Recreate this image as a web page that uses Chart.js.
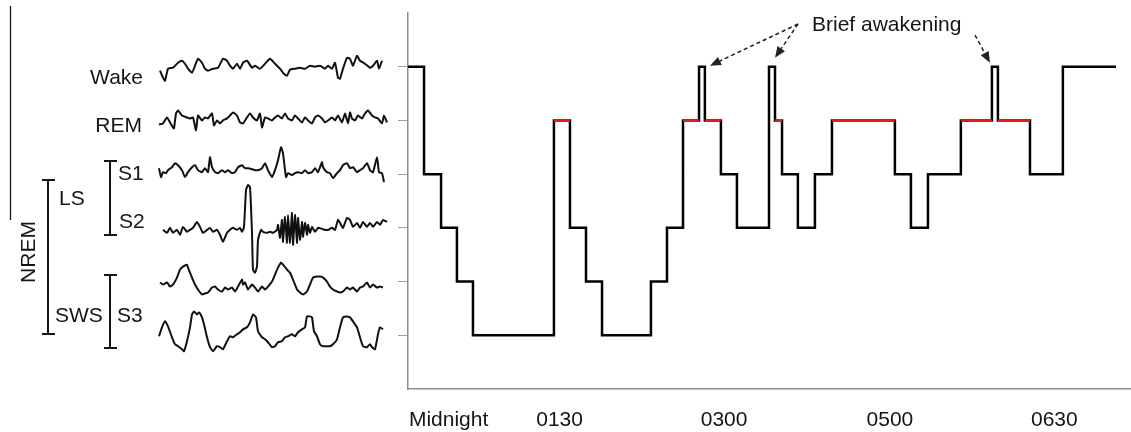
<!DOCTYPE html>
<html>
<head>
<meta charset="utf-8">
<script src="https://cdn.jsdelivr.net/npm/chart.js@4.4.1/dist/chart.umd.min.js"></script>
<style>
  html, body { margin: 0; padding: 0; background: #fff; }
  #wrap { position: relative; width: 1131px; height: 432px; }
  #wrap canvas { position: absolute; left: 0; top: 0; }
</style>
</head>
<body>
<div id="wrap">
  <canvas id="eegChart" width="1131" height="432"></canvas>
  <canvas id="hypnoChart" width="1131" height="432"></canvas>
</div>
<script>
const FONT_FAMILY = '"Liberation Sans", Arial, sans-serif';
const INK = '#151515';

// stage levels: 5 Wake, 4 REM, 3 S1, 2 S2, 1 S3, 0 S4
// hypnogram: minutes after midnight where each stage begins
const stageStart = [0, 9.6, 19.8, 29.3, 38.9, 87.4, 97, 106.6, 116.2, 145.5,
    155.1, 164.7, 174.3, 177.8, 187.4, 197, 216.2, 219.8, 224, 233.5,
    243.7, 253.9, 291.6, 301.2, 311.4, 331.1, 349.7, 353.3, 372.5, 392.2];
const stageLevel = [5, 3, 2, 1, 0, 4, 2, 1, 0, 1,
    2, 4, 5, 4, 3, 2, 5, 4, 3, 2,
    3, 4, 3, 2, 3, 4, 5, 4, 3, 5];
const recordEnd = 424;
const axisEnd = 433;

const timeTicks = [24.3, 90.8, 189.3, 288.6, 387.1];
const timeLabels = ['Midnight', '0130', '0300', '0500', '0630'];

// example EEG traces: [sample, amplitude]
const traceLevel = [5, 4, 3, 2, 1, 0];
const wakeTrace = [[5,-4],[8,-11],[10,-14],[13,-2],[18,-1],[23,4],[27,6],[30,3],[33,-2],[37,-6],[40,1],[43,8],[47,4],[50,-2],[53,-4],[58,-2],[63,-1],[68,8],[72,6],[75,1],[78,-2],[82,3],[85,-2],[88,4],[92,6],[97,-1],[100,1],[105,-2],[110,3],[115,8],[120,3],[125,-2],[128,-6],[132,-9],[135,-3],[140,-2],[145,-1],[150,-2],[155,1],[160,0],[165,1],[170,-2],[173,1],[177,-2],[180,4],[183,-11],[185,-12],[188,-2],[192,9],[195,8],[198,1],[202,11],[205,6],[210,3],[215,-1],[218,1],[222,6],[224,-2],[227,6]];
const remTrace = [[4,-4],[8,-3],[12,3],[15,-2],[18,-7],[19,-8],[21,7],[23,10],[27,5],[32,3],[35,2],[38,3],[41,-10],[43,5],[47,0],[50,3],[53,2],[57,7],[59,-5],[62,0],[65,-3],[68,0],[72,2],[75,5],[78,8],[82,5],[85,-2],[88,-3],[92,3],[95,7],[98,3],[102,0],[105,7],[107,-7],[110,3],[113,2],[117,0],[120,3],[123,5],[127,2],[130,7],[133,2],[137,0],[140,5],[143,2],[147,-2],[150,3],[153,0],[157,-3],[160,3],[163,5],[167,2],[170,-2],[173,0],[177,3],[180,0],[183,5],[187,-2],[190,7],[193,-3],[195,8],[197,2],[200,0],[203,5],[207,2],[210,7],[213,10],[217,5],[220,3],[223,2],[227,-3],[229,5],[232,-2]];
const s1Trace = [[4,6],[6,-3],[8,2],[11,1],[13,4],[17,7],[20,11],[23,9],[27,4],[30,-3],[33,2],[37,7],[40,9],[43,4],[47,2],[50,6],[53,2],[55,17],[57,7],[60,2],[63,1],[67,4],[70,2],[73,4],[77,1],[80,2],[83,7],[87,9],[90,6],[93,6],[97,5],[100,4],[103,4],[107,6],[110,11],[113,4],[117,-3],[120,4],[123,14],[126,27],[128,21],[131,-3],[133,1],[137,-1],[140,1],[143,2],[147,1],[150,4],[153,1],[157,2],[160,6],[163,2],[167,12],[168,7],[172,2],[175,1],[178,-4],[182,1],[185,4],[188,9],[192,11],[195,6],[198,7],[202,2],[205,4],[208,6],[212,11],[215,4],[218,2],[222,17],[224,2],[227,1],[229,-8]];
const s2Trace = [[8,-2],[12,-5],[15,0],[18,-5],[22,-2],[25,-7],[28,1],[32,-4],[35,-2],[38,0],[42,6],[45,1],[48,-5],[52,-2],[55,0],[58,-4],[62,-2],[65,-7],[68,-14],[72,-5],[75,-2],[78,0],[82,-2],[85,0],[87,-4],[89,1],[91,38],[93,43],[95,41],[97,-5],[98,-42],[100,-45],[102,-39],[103,-12],[106,-2],[108,-4],[112,-5],[115,-4],[118,-5],[122,-2],[123,3],[125,-10],[127,8],[128,-14],[130,11],[132,-15],[133,13],[135,-15],[137,15],[138,-17],[140,13],[142,-15],[143,10],[145,-12],[147,6],[148,-9],[150,5],[152,-7],[153,3],[155,-5],[157,1],[160,-4],[163,0],[167,-1],[170,-2],[173,-2],[177,0],[180,-2],[183,8],[185,5],[188,0],[192,10],[195,8],[198,1],[202,5],[205,0],[208,6],[212,1],[215,5],[218,1],[222,6],[225,3],[228,8],[232,6]];
const s3Trace = [[5,-1],[8,-3],[12,-1],[15,-5],[18,-3],[22,4],[25,12],[28,15],[32,17],[33,14],[37,4],[40,-3],[43,-8],[47,-13],[50,-12],[53,-11],[57,-6],[60,-5],[63,-8],[67,-10],[70,-6],[73,-8],[77,-6],[80,-10],[83,-5],[87,2],[88,-3],[90,-1],[93,-8],[97,-3],[100,-6],[103,-10],[107,-5],[110,-8],[113,-5],[117,0],[120,7],[123,14],[126,19],[128,17],[132,12],[135,9],[138,2],[142,-8],[145,-11],[148,-13],[152,-10],[155,-3],[158,4],[162,5],[165,5],[168,4],[172,0],[175,-5],[178,-8],[182,-10],[185,-11],[188,-10],[192,-6],[195,-8],[198,-6],[202,-10],[205,-6],[208,-5],[212,-1],[215,-6],[218,-3],[222,-6],[225,-5],[228,-6]];
const s4Trace = [[4,-1],[7,8],[10,14],[13,9],[17,-2],[20,-9],[23,-11],[27,-14],[29,-16],[32,-6],[35,8],[37,21],[39,24],[42,21],[44,23],[47,18],[49,11],[52,-2],[55,-12],[58,-16],[62,-11],[65,-12],[68,-14],[72,-6],[75,-1],[78,-2],[82,1],[85,3],[88,6],[92,8],[95,13],[98,21],[101,18],[103,4],[107,-2],[110,-4],[113,-7],[117,-12],[120,-11],[123,-7],[127,-6],[130,-2],[133,-1],[137,1],[140,-1],[143,3],[147,6],[150,8],[152,19],[155,19],[157,18],[159,4],[162,-1],[165,-9],[168,-11],[172,-11],[175,-11],[178,-9],[182,-4],[185,8],[188,18],[192,19],[195,18],[198,14],[202,8],[205,-2],[208,-11],[212,-12],[215,-9],[217,-12],[220,-14],[223,1],[225,8],[228,6]];
const traceEnd = 233;
const ampPerLevel = 54;

const traces = [wakeTrace, remTrace, s1Trace, s2Trace, s3Trace, s4Trace];

const font = (size) => `${size}px ${FONT_FAMILY}`;

// hypnogram points (value holds until the next start)
const hypnoPoints = stageStart.map((t, i) => ({ x: t, y: stageLevel[i] }));
hypnoPoints.push({ x: recordEnd, y: stageLevel[stageLevel.length - 1] });

const stageEnd = (i) => (i + 1 < stageStart.length ? stageStart[i + 1] : recordEnd);

// REM periods drawn again in red
const remPoints = [];
stageStart.forEach((t, i) => {
    if (stageLevel[i] !== 4) return;
    remPoints.push({ x: t, y: 4 }, { x: stageEnd(i), y: 4 }, { x: stageEnd(i), y: null });
});

const line = (ctx, x1, y1, x2, y2) => {
    ctx.beginPath();
    ctx.moveTo(x1, y1);
    ctx.lineTo(x2, y2);
    ctx.stroke();
};

const arrow = (ctx, from, to) => {
    const ang = Math.atan2(to[1] - from[1], to[0] - from[0]);
    const len = 11;
    const bx = to[0] - Math.cos(ang) * len;
    const by = to[1] - Math.sin(ang) * len;
    ctx.save();
    ctx.setLineDash([4, 3]);
    line(ctx, from[0], from[1], bx, by);
    ctx.setLineDash([]);
    ctx.beginPath();
    ctx.moveTo(to[0], to[1]);
    ctx.lineTo(bx + Math.sin(ang) * 4.5, by - Math.cos(ang) * 4.5);
    ctx.lineTo(bx - Math.sin(ang) * 4.5, by + Math.cos(ang) * 4.5);
    ctx.closePath();
    ctx.fill();
    ctx.restore();
};

const awakeningNote = {
    id: 'awakeningNote',
    afterDraw(chart) {
        const { ctx, scales: { x, y } } = chart;
        const wakeY = y.getPixelForValue(5);
        // brief awakenings = short wake periods inside the night
        const brief = [];
        stageStart.forEach((t, i) => {
            if (i > 0 && stageLevel[i] === 5 && stageEnd(i) - t < 6) brief.push((t + stageEnd(i)) / 2);
        });
        const tails = [[798, 24], [798, 24], [975, 35]];
        const offs = [[8, -1], [3, -9], [-5, -4]];
        ctx.save();
        ctx.strokeStyle = '#222';
        ctx.fillStyle = '#222';
        ctx.lineWidth = 1.5;
        brief.forEach((t, i) => {
            if (!tails[i]) return;
            arrow(ctx, tails[i], [x.getPixelForValue(t) + offs[i][0], wakeY + offs[i][1]]);
        });
        ctx.fillStyle = INK;
        ctx.font = font(21);
        ctx.textAlign = 'left';
        ctx.textBaseline = 'alphabetic';
        ctx.fillText('Brief awakening', 812, 31);
        ctx.restore();
    }
};

const eegLabels = {
    id: 'eegLabels',
    afterDraw(chart) {
        const { ctx } = chart;
        ctx.save();
        ctx.fillStyle = INK;
        ctx.strokeStyle = INK;
        ctx.font = font(21);
        ctx.textBaseline = 'alphabetic';
        ctx.textAlign = 'right';
        ctx.fillText('Wake', 143, 84);
        ctx.fillText('REM', 142, 131.5);
        ctx.textAlign = 'left';
        ctx.fillText('S1', 118, 180);
        ctx.fillText('S2', 119, 228);
        ctx.fillText('LS', 59, 205);
        ctx.fillText('SWS', 55, 322);
        ctx.fillText('S3', 117, 322);
        ctx.save();
        ctx.translate(35, 252);
        ctx.rotate(-Math.PI / 2);
        ctx.textAlign = 'center';
        ctx.fillText('NREM', 0, 0);
        ctx.restore();

        // brackets
        ctx.lineWidth = 2;
        const bracket = (bx, top, bottom) => {
            line(ctx, bx, top, bx, bottom);
            line(ctx, bx - 6, top, bx + 7, top);
            line(ctx, bx - 6, bottom, bx + 7, bottom);
        };
        bracket(48, 180, 334);
        bracket(110, 161, 235);
        bracket(110, 275, 348);

        ctx.lineWidth = 1.3;
        line(ctx, 10.5, 6, 10.5, 220);
        ctx.restore();
    }
};

new Chart(document.getElementById('eegChart'), {
    type: 'line',
    data: {
        datasets: traces.map((tr, i) => ({
            data: tr.map(([t, a]) => ({ x: t, y: traceLevel[i] + a / ampPerLevel })),
            borderColor: '#111',
            borderWidth: 2,
            pointRadius: 0,
            tension: 0.15
        }))
    },
    options: {
        responsive: false,
        animation: false,
        layout: { padding: { left: 155, right: 1131 - 155 - traceEnd, top: 13, bottom: 43 } },
        plugins: { legend: { display: false }, tooltip: { enabled: false } },
        scales: {
            x: { type: 'linear', min: 0, max: traceEnd, display: false },
            y: { min: -1, max: 6, display: false }
        }
    },
    plugins: [eegLabels]
});

new Chart(document.getElementById('hypnoChart'), {
    type: 'line',
    data: {
        datasets: [
            {
                data: remPoints,
                borderColor: '#ee1a1a',
                borderWidth: 2.5,
                pointRadius: 0,
                order: 0
            },
            {
                data: hypnoPoints,
                stepped: 'before',
                borderColor: '#000',
                borderWidth: 2.5,
                borderJoinStyle: 'miter',
                pointRadius: 0,
                order: 1
            }
        ]
    },
    options: {
        responsive: false,
        animation: false,
        layout: { padding: { left: 398, top: 13, right: 0, bottom: 0 } },
        plugins: { legend: { display: false }, tooltip: { enabled: false } },
        scales: {
            x: {
                type: 'linear',
                min: 0,
                max: axisEnd,
                grid: { display: false },
                border: { color: '#8c8c8c', width: 1.5 },
                afterBuildTicks: (scale) => { scale.ticks = timeTicks.map(v => ({ value: v })); },
                afterFit: (scale) => { scale.height = 43; },
                ticks: {
                    color: INK,
                    font: { family: FONT_FAMILY, size: 21 },
                    padding: 11,
                    maxRotation: 0,
                    autoSkip: false,
                    callback: (v, i) => timeLabels[i]
                }
            },
            y: {
                min: -1,
                max: 6,
                afterBuildTicks: (scale) => { scale.ticks = traceLevel.map(v => ({ value: v })); },
                afterFit: (scale) => { scale.width = 10; },
                grid: { drawOnChartArea: false, tickLength: 10, color: '#a0a0a0', lineWidth: 1 },
                border: { color: '#8c8c8c', width: 1.5 },
                ticks: { display: false }
            }
        }
    },
    plugins: [awakeningNote]
});
</script>
</body>
</html>
